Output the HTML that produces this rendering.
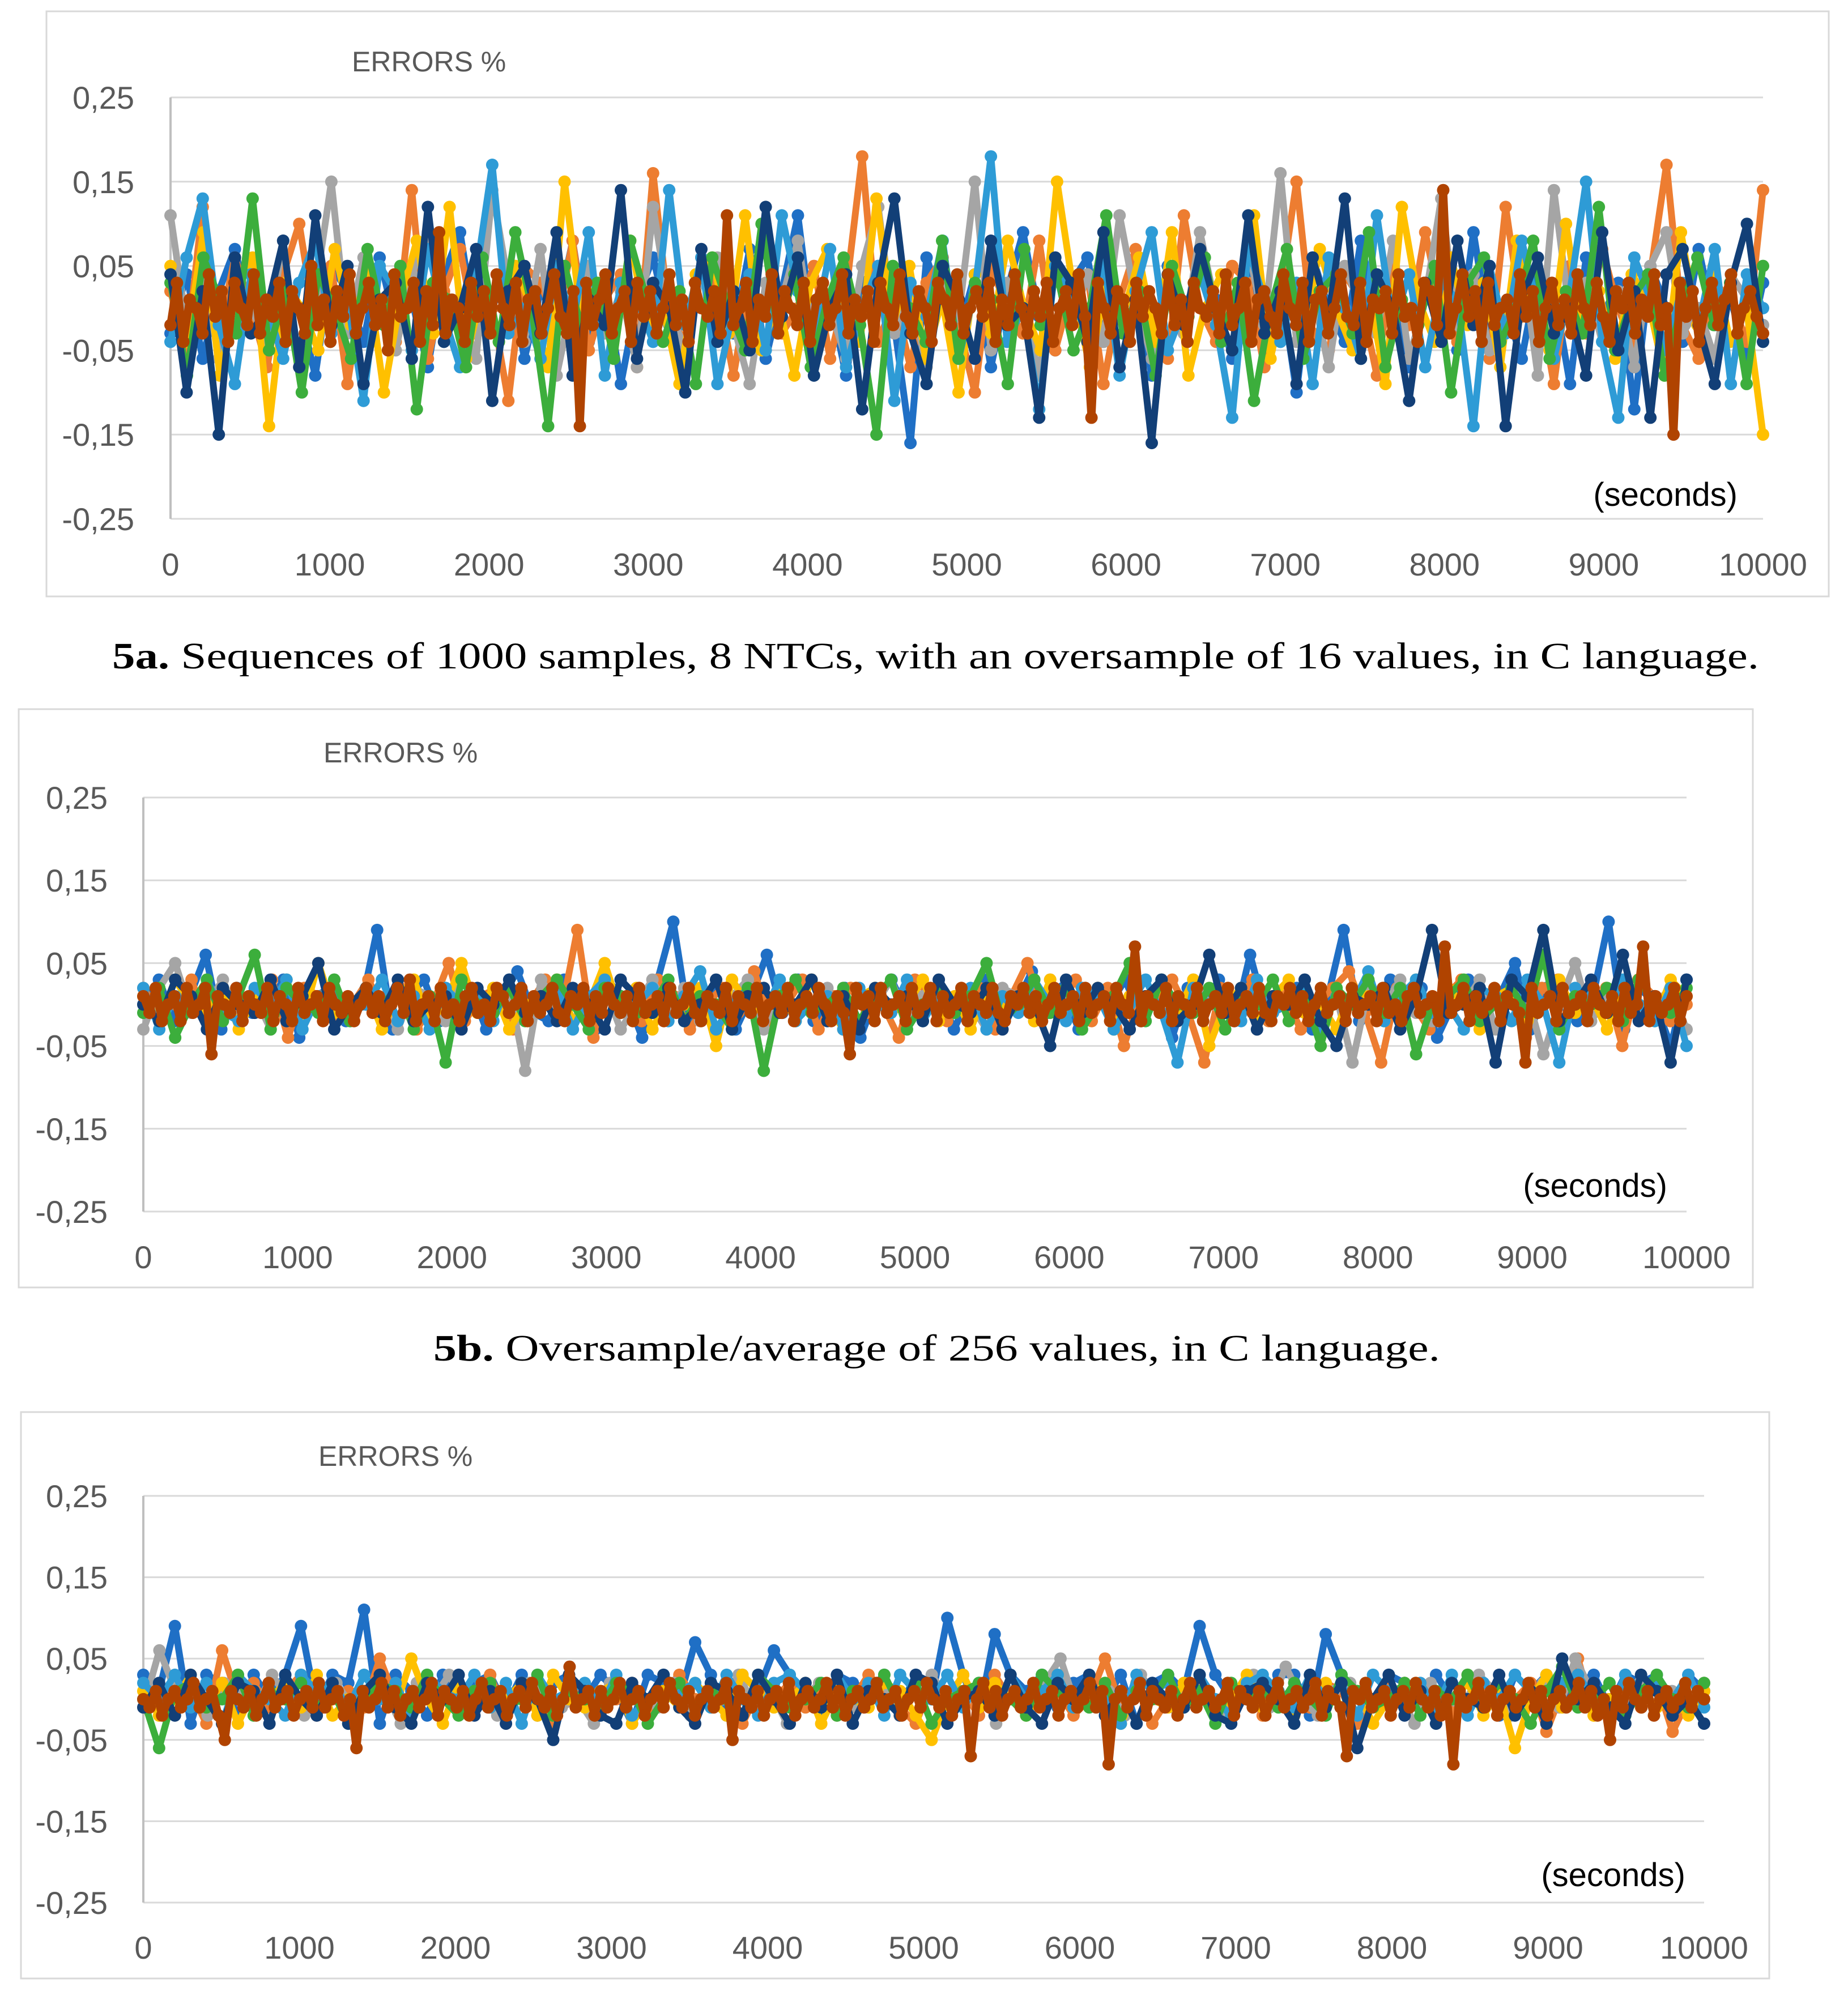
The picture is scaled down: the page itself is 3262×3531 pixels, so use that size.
<!DOCTYPE html>
<html><head><meta charset="utf-8">
<style>
html,body{margin:0;padding:0;background:#fff;}
svg{display:block;}
</style></head>
<body>
<svg id="page" width="3262" height="3531" viewBox="0 0 3262 3531" xmlns="http://www.w3.org/2000/svg">
<rect x="0" y="0" width="3262" height="3531" fill="#fff"/>
<text x="198" y="1180" font-family="Liberation Serif, serif" font-size="66" fill="#000" textLength="2907" lengthAdjust="spacingAndGlyphs"><tspan font-weight="bold">5a.</tspan> Sequences of 1000 samples, 8 NTCs, with an oversample of 16 values, in C language.</text>
<text x="765" y="2402" font-family="Liberation Serif, serif" font-size="66" fill="#000" textLength="1777" lengthAdjust="spacingAndGlyphs"><tspan font-weight="bold">5b.</tspan> Oversample/average of 256 values, in C language.</text>
</svg>
<script>
// ---------- data (errors in hundredths of %) ----------
const xTicks = [0,1000,2000,3000,4000,5000,6000,7000,8000,9000,10000];
const yTicks = [0.25,0.15,0.05,-0.05,-0.15,-0.25];
const yTickLabels = ["0,25","0,15","0,05","-0,05","-0,15","-0,25"];
const seriesNames = ["ntc1","ntc2","ntc3","ntc4","ntc5","ntc6","ntc7","ntc8"];
const seriesColors = ["#1f6fc5","#ed7d31","#a5a5a5","#ffc000","#2e9bd6","#3cae3c","#123f77","#b04300"];

const A1=[-3,4,-6,2,7,-1,-5,3,0,-8,5,2,-4,6,-2,1,-7,4,9,-3,0,5,-6,2,-1,8,-4,3,-9,1,6,-2,-5,4,0,-3,7,-6,2,11,-4,1,-8,3,5,-2,-16,6,0,-3,4,-7,2,9,-1,-5,3,6,-4,0,2,-8,5,-3,7,1,-6,4,-2,3,-10,6,0,-4,8,-2,5,-7,1,3,-5,9,-3,0,-6,4,2,-9,6,-1,3,-12,5,0,-4,7,-2,1,-6,3];
const A2=[2,-5,12,-3,6,0,-7,4,10,-2,5,-9,3,1,-4,14,-6,2,7,-3,0,-11,5,3,-2,8,-5,1,4,-7,16,-1,-4,6,2,-8,3,9,-3,0,5,-6,2,18,-4,1,-7,3,6,-2,-10,5,0,-3,8,-5,2,4,-9,1,7,-2,-6,11,0,-4,5,3,-7,2,15,-3,-5,4,1,-8,6,-2,9,0,-4,3,-6,12,-1,2,-9,5,-3,7,0,-5,4,17,-2,-6,3,1,-4,14];
const A3=[11,-2,5,-6,3,0,-4,8,-7,2,15,-3,6,-1,-5,4,9,-2,0,-6,14,3,-4,7,-8,1,5,-3,2,-7,12,0,-5,4,6,-2,-9,3,1,8,-4,0,-6,5,12,-3,2,-7,4,-1,15,-5,3,0,-8,6,-2,4,-4,11,1,-6,3,-3,9,0,-5,7,-2,16,-4,2,-7,5,0,-3,8,-6,1,13,-2,4,-5,0,6,-8,14,-1,3,-4,2,-7,5,9,-3,0,-6,4,1,-2];
const A4=[5,-4,9,-8,2,6,-14,3,0,-5,7,-2,4,-10,1,8,-3,12,-6,2,-4,5,0,-7,15,-1,3,-6,8,-2,0,-9,4,6,-3,11,-5,1,-8,3,7,0,-4,13,-2,5,-6,1,-10,4,-3,8,0,-5,15,2,-7,3,-1,6,-4,9,-8,0,4,-2,11,-6,3,-3,7,0,-5,2,-9,12,1,-4,6,-2,3,-7,8,0,-5,10,-3,2,-6,4,1,-8,9,-2,5,-4,0,-15];
const A5=[-4,6,13,-2,-9,4,0,-6,3,8,-3,1,-11,5,2,-5,7,-1,-7,4,17,-3,0,-6,5,-2,9,-8,3,1,-4,14,-2,6,-9,0,4,-5,11,2,-3,7,-7,0,5,-11,3,-1,8,-6,2,18,-4,0,-12,5,1,-3,6,-8,2,9,-5,0,4,-2,-13,7,1,-4,3,-9,6,0,-6,11,-2,4,-7,3,1,-14,5,-3,8,0,-6,2,15,-4,-13,6,1,-5,3,-2,7,-9,4,0];
const A6=[3,-8,6,1,-3,13,-5,2,-10,4,0,-6,7,-2,5,-12,3,1,-7,6,-4,9,0,-14,5,-2,3,-6,8,1,-4,2,-9,6,0,-5,10,-3,4,-7,1,6,-2,-15,5,0,-4,8,-6,3,1,-9,7,-2,4,-5,0,11,-3,2,-8,5,-1,6,-4,3,-11,0,7,-6,2,4,-3,9,-7,1,-2,5,-10,3,6,-4,0,8,-6,2,-3,12,-5,1,4,-8,0,6,-2,3,-9,5];
const A7=[4,-10,2,-15,6,-3,0,8,-7,11,-2,5,-9,1,3,-6,12,-4,0,7,-11,2,5,-3,9,-8,1,-2,14,-6,3,0,-10,7,-4,2,-5,12,-1,6,-8,0,4,-12,3,13,-3,-9,5,1,-6,8,-2,0,-13,6,3,-4,9,-7,1,-16,4,-2,7,0,-5,11,-3,2,-9,6,-1,13,-6,4,0,-11,3,-4,8,-2,5,-14,1,6,-3,0,-8,9,-5,2,-13,4,7,-2,-9,3,10,-4];
const A8=[-2,3,-4,1,0,-3,4,-1,2,-4,3,0,-2,4,-3,1,-1,3,-4,2,0,-3,5,-2,1,
-4,2,-1,4,-3,0,3,-2,1,-5,4,-1,0,3,-4,2,-2,9,-3,1,0,-4,3,-1,2,
-3,4,0,-2,3,-4,1,2,-3,0,4,-1,-3,2,-14,3,-2,1,4,-3,0,2,-4,3,-1,
2,-3,0,4,-2,1,-4,3,0,-1,2,-3,11,-2,0,3,-4,1,-1,4,-3,2,0,-2,3,
-4,1,3,-2,0,4,-3,1,-1,2,-4,3,0,-2,4,-1,-3,2,0,-4,3,1,-2,4,-3,
0,2,-1,3,-4,1,-2,4,0,-3,2,-1,3,-4,0,2,-2,4,-1,-13,3,0,-3,2,1,
-4,3,-1,2,0,-3,4,-2,1,-4,3,0,-1,2,-3,4,-2,0,3,-4,1,2,-1,-3,4,
0,-2,3,-4,1,2,-3,0,4,-1,-2,3,-4,1,0,2,-3,4,-1,0,-4,3,2,-2,14,
-3,0,4,-1,2,-4,3,-2,0,1,-3,4,-1,2,-4,0,3,-2,1,-3,4,0,-2,3,-1,
-4,2,0,3,-3,1,-1,4,-2,0,-15,3,-1,2,-4,0,3,-2,1,4,-3,0,2,-1,-3];

const B1=[0,3,-2,1,6,-3,2,-1,0,3,-4,1,2,-2,0,9,-3,1,3,-2,0,2,-3,1,4,-1,-2,3,0,-3,2,1,-4,3,10,-2,0,2,-3,1,6,-1,3,-2,0,2,-4,1,3,-1,0,2,-3,1,3,-2,0,4,-1,2,-3,1,0,3,-2,1,-4,2,0,3,-2,6,-1,0,2,-3,1,9,-2,0,3,-1,2,-4,0,3,-2,1,5,-3,2,0,-2,1,10,-3,2,0,-5,3];
const B2=[2,-1,0,3,-3,1,-2,0,3,-4,2,1,-2,0,3,-1,2,-3,0,5,-2,1,2,-3,0,3,-1,9,-4,2,0,-2,3,1,-3,0,2,-1,4,-2,0,3,-3,1,2,-1,0,-4,3,1,-2,0,2,-3,1,5,-1,0,3,-2,2,-5,1,0,3,-1,-7,2,0,3,-2,1,-3,0,2,4,-1,-7,2,0,-3,1,3,-2,0,1,-4,2,3,-1,0,2,-5,3,1,-2,0];
const B3=[-3,2,5,-1,0,3,-2,1,-3,2,0,-1,3,-2,1,0,-3,2,1,-2,3,0,-1,2,-8,3,0,-2,1,2,-3,0,3,-1,2,-2,0,1,3,-3,2,0,-1,2,-3,1,0,3,-2,1,2,-1,0,-3,2,1,-2,3,0,-1,2,-3,0,1,2,-2,3,0,-1,2,-3,1,0,3,-2,1,-7,2,0,3,-1,-2,1,0,3,-3,2,1,-6,0,5,-2,1,3,-1,0,2,-3];
const B4=[1,-2,3,0,-1,2,-3,1,0,3,-2,5,-1,0,2,-3,1,3,-2,0,5,-1,2,-3,0,1,3,-2,0,5,-1,2,-3,1,0,2,-5,3,0,-1,2,-2,3,0,-3,1,2,-1,0,3,-2,1,-3,2,0,1,-2,3,-1,0,2,-3,1,0,2,-1,3,-5,0,2,-2,1,3,-1,0,-3,2,1,-2,0,3,-1,2,0,-3,1,2,-2,0,3,-1,1,-3,2,0,-2,3,1];
const B5=[2,-3,1,0,3,-1,-2,2,0,3,-3,1,2,-1,0,3,-2,1,-3,2,0,1,-2,3,-1,0,2,-3,1,3,-1,0,2,-2,1,4,-3,0,2,-1,3,-2,0,1,-3,2,0,-1,3,-2,1,0,2,-3,1,-1,3,0,-2,2,1,-3,0,3,-1,-7,2,0,1,-2,3,-1,0,2,-3,1,0,4,-2,1,3,-1,0,-3,2,1,-2,3,0,-7,2,1,-1,3,0,-2,2,-5];
const B6=[-1,2,-4,0,3,-2,1,6,-3,2,0,-1,3,-2,1,0,2,-3,1,-7,3,0,-1,2,-2,1,3,0,-3,2,1,-1,0,3,-2,1,0,-3,2,-8,1,3,-1,0,2,-2,1,3,-3,0,2,-1,1,5,-2,0,3,-1,2,-3,0,1,5,-2,3,0,-1,2,-3,1,0,3,-2,1,-5,2,0,3,-1,2,-6,0,1,3,-2,0,2,-1,6,-3,1,0,2,-2,3,0,-1,2];
const B7=[0,-2,3,1,-3,2,0,-1,3,-2,1,5,-3,0,2,-1,3,-2,0,1,-3,2,0,3,-1,1,-2,2,0,-3,3,1,-1,2,-2,0,3,-3,1,2,-1,0,3,-2,1,-3,2,0,1,-2,3,0,-1,2,-3,1,0,-5,3,-1,2,0,-3,1,3,-2,0,6,-1,2,-3,1,0,3,-2,-5,1,0,2,-3,1,9,-1,0,2,-7,3,1,9,-2,0,3,-1,6,-2,1,-7,3];
const B8=[1,-1,2,-2,0,1,-2,2,-1,0,2,-6,1,0,-1,2,-2,1,0,-1,2,-2,1,0,-2,
2,-1,0,1,-2,2,0,-1,1,-2,0,2,-1,1,-2,0,2,-1,3,-2,0,1,-2,2,-1,
0,-2,1,2,-1,0,-2,2,1,-1,0,2,-2,1,-1,0,2,-1,-2,1,0,2,-2,1,-1,
2,0,-1,1,-2,2,-1,0,1,-2,2,-1,0,2,-1,-2,1,0,-1,2,-2,1,0,-1,2,
-2,0,1,-1,2,-2,0,1,-1,2,0,-2,1,-1,-6,2,0,1,-2,2,-1,0,1,-2,2,
-1,0,2,-2,1,-1,0,2,-2,1,0,-1,2,-1,-2,1,0,2,-1,1,-2,0,2,-1,0,
1,-2,2,-1,0,1,-2,2,0,-1,7,-2,1,0,-1,2,-2,1,0,-1,2,-2,0,1,-1,
2,-2,0,1,-1,2,-1,-2,1,0,2,-1,1,-2,0,2,-1,0,1,-2,2,-1,0,1,-2,
2,-1,0,-2,1,2,-1,0,1,-2,7,-1,0,2,-2,1,-1,0,2,-2,1,0,-1,-7,2,
-1,0,1,-2,2,-1,0,1,-2,2,0,-1,1,-2,2,-1,0,7,-2,1,-1,0,2,-2,1];

const C1=[3,1,9,-3,3,2,-2,3,0,3,9,-1,3,2,11,-3,3,1,-2,3,0,2,3,-1,3,-2,2,3,0,3,1,-3,3,2,0,7,3,-2,3,1,6,3,0,-2,3,2,1,3,-1,3,0,10,3,-2,8,3,1,3,-1,2,3,0,3,-3,2,3,1,9,3,0,2,-1,3,3,-2,8,3,1,0,3,2,-1,3,0,3,2,-2,3,1,3,0,2,3,-1,3,2,3,0,3,1];
const C2=[0,-1,2,1,-3,6,0,2,-1,1,3,-2,0,1,-1,5,0,-2,2,1,-1,0,3,-2,1,0,-3,2,1,-1,0,2,-2,1,3,0,-1,2,-3,1,0,2,-1,1,-2,0,3,1,-1,-3,2,0,1,-2,3,0,-1,2,1,-2,0,5,-1,2,-3,0,1,2,-1,0,3,-2,1,0,-1,2,1,-3,0,2,-1,1,0,-2,3,1,-1,0,2,-4,1,5,-2,0,1,-1,2,-4,0,2];
const C3=[-1,6,1,0,-2,2,1,-1,3,0,-2,1,2,-1,0,1,-3,2,0,3,-1,1,-2,0,2,1,-1,0,-3,2,1,0,-1,2,-2,1,0,3,-1,1,-3,0,2,1,-1,0,2,-2,1,3,0,-1,2,-3,1,0,2,5,-1,0,1,-2,3,0,-1,2,1,-2,0,3,-1,4,0,-2,1,2,-1,0,1,-3,2,0,-1,3,1,-2,0,2,-1,5,1,0,-2,2,-1,1,0,2];
const C4=[1,-2,0,3,-1,2,-3,1,0,2,-1,3,-2,0,1,2,-1,5,0,-3,2,1,-1,0,2,-2,3,0,-1,1,2,-3,0,1,-1,2,0,-2,3,1,-1,0,2,-3,1,0,-1,2,1,-2,-5,0,3,-1,2,0,-2,1,3,-1,0,2,-3,1,0,-1,2,1,-2,0,3,-1,1,-2,0,2,-1,1,-3,0,2,1,-1,0,2,-2,1,-6,0,3,-1,1,-2,0,2,1,-1,0,-2,1];
const C5=[2,0,3,-1,2,-3,3,1,0,-2,3,1,2,-1,3,0,2,-2,3,1,0,3,-1,2,-3,3,0,1,2,-1,3,-2,0,3,1,2,-1,3,0,-2,2,3,1,-1,3,0,2,-2,3,1,0,3,-1,2,-2,3,0,1,3,-1,2,0,-3,3,1,2,-1,3,0,-2,2,3,1,-1,3,0,2,-2,3,1,0,2,-1,3,-2,2,0,3,1,-1,2,3,0,-2,3,1,2,0,3,-1];
const C6=[0,-6,1,2,-1,0,3,-2,1,0,2,-1,1,-3,0,2,1,-1,3,0,-2,1,2,-1,0,3,-2,1,0,-1,2,1,-3,0,2,-1,1,0,-2,3,1,-1,0,2,-2,1,0,3,-1,2,-3,0,1,2,-1,0,-2,3,1,0,-1,2,-2,1,0,3,-1,1,-3,2,0,1,-1,2,0,-2,3,1,-1,0,2,-2,1,0,3,-1,2,0,-3,1,4,-1,0,2,-2,1,3,0,-1,2];
const C7=[-1,2,-2,3,0,-3,2,1,-3,3,0,-2,2,-3,1,3,-1,-3,2,0,3,-2,1,-3,2,0,-5,3,1,-2,-3,2,0,3,-1,-3,2,1,-2,3,0,-3,2,-1,3,-3,1,0,-2,3,2,-3,0,1,-2,3,-1,-3,2,0,3,-2,1,-3,2,0,-1,3,-2,-3,1,2,0,-3,3,-1,2,-6,0,3,-2,1,-3,2,0,-1,3,-2,1,-3,5,0,2,-1,-3,3,1,-2,0,-3];
const C8=[0,-1,1,-2,0,1,-1,0,2,-1,0,1,-2,-5,1,0,-1,1,-2,0,2,-1,0,1,-2,
0,1,-1,2,-1,0,1,-2,0,-6,1,-1,0,2,-1,1,-2,0,1,-1,0,2,-2,1,0,
-1,1,-2,0,2,-1,0,1,-2,0,1,-1,2,0,-1,1,-2,0,4,-1,0,1,-2,1,-1,
0,2,-1,0,1,-2,0,1,-1,2,0,-1,1,-2,0,1,-1,0,2,-5,1,0,-1,1,-2,
0,1,-1,2,-2,0,1,-1,0,2,-1,1,-2,0,1,-1,0,2,-1,0,1,-2,0,1,-1,
2,0,-1,1,-2,0,1,-7,0,2,-1,1,-2,0,1,-1,0,2,-1,0,1,-2,0,1,-1,
0,2,-1,1,-8,0,1,-1,0,2,-2,1,0,-1,1,-2,0,2,-1,0,1,-1,0,2,-2,
1,0,-1,1,-2,0,2,-1,0,1,-1,0,2,-2,1,0,-1,-7,1,0,2,-1,0,1,-2,
0,1,-1,2,0,-1,1,-2,0,-8,1,-1,0,2,-1,1,-2,0,1,-1,0,2,-1,1,-2,
0,1,-1,0,2,-1,1,-2,0,-5,1,-1,2,0,-1,1,-2,0,1,-1,0,2,-1,1,0];

const chartASeries=[A1,A2,A3,A4,A5,A6,A7,A8];
const chartBSeries=[B1,B2,B3,B4,B5,B6,B7,B8];
const chartCSeries=[C1,C2,C3,C4,C5,C6,C7,C8];

// ---------- layout ----------
const layouts = [
 {id:"chart-5a", series:chartASeries, box:[82,20,3228,1053], px:[301,3112], py:[172,916], ylabX:237, xlabY:1016, title:[621,126], secs:[3067,893]},
 {id:"chart-5b", series:chartBSeries, box:[33,1252,3094,2273], px:[253,2977], py:[1408,2139], ylabX:190, xlabY:2239, title:[571,1346], secs:[2943,2113]},
 {id:"chart-5c", series:chartCSeries, box:[37,2493,3123,3493], px:[253,3008], py:[2641,3359], ylabX:190, xlabY:3458, title:[562,2588], secs:[2975,3330]}
];
const NS="http://www.w3.org/2000/svg";
const page=document.getElementById('page');
function mk(tag,attrs,parent){const e=document.createElementNS(NS,tag);for(const k in attrs)e.setAttribute(k,attrs[k]);parent.appendChild(e);return e;}

layouts.forEach(L=>{
  const g=mk('g',{},page);
  
  
  const xs=v=>L.px[0]+(v-0)/(10000)*(L.px[1]-L.px[0]);
  const ys=v=>L.py[0]+(0.25-v)/0.5*(L.py[1]-L.py[0]);
  const box=mk('rect',{x:L.box[0],y:L.box[1],width:L.box[2]-L.box[0],height:L.box[3]-L.box[1],fill:'#fff',stroke:'#d9d9d9','stroke-width':3},g);
  
  
  yTicks.forEach((t,i)=>{
    const y=ys(t);
    const gl=mk('line',{x1:L.px[0],x2:L.px[1],y1:y,y2:y,stroke:'#d9d9d9','stroke-width':3},g);
    
    
    const tl=mk('text',{x:L.ylabX,y:y+20,'text-anchor':'end','font-family':'Liberation Sans, sans-serif','font-size':56,fill:'#595959'},g);
    tl.textContent=yTickLabels[i];
    
    
  });
  const ax=mk('line',{x1:L.px[0],x2:L.px[0],y1:L.py[0],y2:L.py[1],stroke:'#bfbfbf','stroke-width':4},g);
  
  
  xTicks.forEach(t=>{
    const tl=mk('text',{x:xs(t),y:L.xlabY,'text-anchor':'middle','font-family':'Liberation Sans, sans-serif','font-size':56,fill:'#595959'},g);
    tl.textContent=String(t);
    
    
  });
  const tt=mk('text',{x:L.title[0],y:L.title[1],'font-family':'Liberation Sans, sans-serif','font-size':50,fill:'#595959'},g);
  tt.textContent='ERRORS %';
  
  
  const st=mk('text',{x:L.secs[0],y:L.secs[1],'text-anchor':'end','font-family':'Liberation Sans, sans-serif','font-size':58,fill:'#000'},g);
  st.textContent='(seconds)';
  
  
  L.series.forEach((arr,si)=>{
    const sg=mk('g',{},g);
    
    
    const n=arr.length;
    const pts=arr.map((v,i)=>[xs(i*10000/(n-1)), ys(v/100)]);
    const pl=mk('polyline',{points:pts.map(p=>p[0].toFixed(1)+','+p[1].toFixed(1)).join(' '),fill:'none',stroke:seriesColors[si],'stroke-width':si===7?14:12,'stroke-linejoin':'round'},sg);
    
    
    pts.forEach(p=>{
      const c=mk('circle',{cx:p[0].toFixed(1),cy:p[1].toFixed(1),r:11,fill:seriesColors[si]},sg);
      
      
    });
  });
});
</script>
</body></html>
